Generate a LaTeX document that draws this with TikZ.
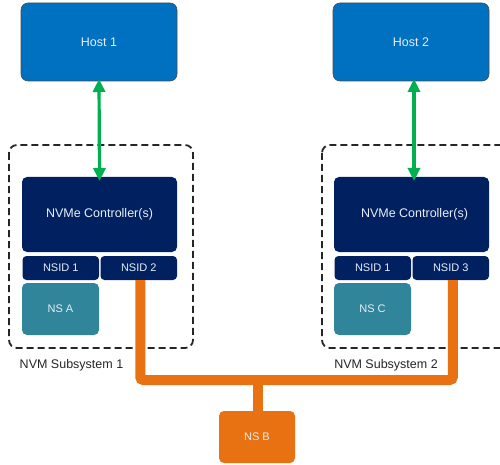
\documentclass[tikz,border=0pt]{standalone}
\usepackage{fontspec}
\setmainfont{Liberation Sans}
\usetikzlibrary{arrows.meta}
\definecolor{hostblue}{RGB}{0,112,192}
\definecolor{ctrlnavy}{RGB}{0,32,96}
\definecolor{nsteal}{RGB}{49,133,155}
\definecolor{busorange}{RGB}{232,114,18}
\definecolor{linkgreen}{RGB}{0,176,80}
\definecolor{labelwhite}{RGB}{232,238,246}
\tikzset{
  box/.style={inner sep=0pt, outer sep=0pt, text=labelwhite},
  hostbox/.style={box, fill=hostblue, draw=black!70, line width=0.6pt, rounded corners=7pt,
    minimum width=156pt, minimum height=78pt, font=\fontsize{12.5}{14}\selectfont},
  ctrlbox/.style={box, fill=ctrlnavy, rounded corners=5pt,
    minimum width=155pt, minimum height=75pt, font=\fontsize{12.5}{14}\selectfont},
  nsidbox/.style={box, fill=ctrlnavy, rounded corners=4pt,
    minimum width=76.5pt, minimum height=24pt, font=\fontsize{11}{13}\selectfont},
  nsbox/.style={box, fill=nsteal, rounded corners=5pt,
    minimum width=77pt, minimum height=52pt, font=\fontsize{11}{13}\selectfont},
  sharedns/.style={box, fill=busorange, rounded corners=5pt,
    minimum width=76pt, minimum height=52pt, font=\fontsize{11}{13}\selectfont},
  subsys/.style={draw=black!85, line width=1.8pt, dash pattern=on 7pt off 4pt, rounded corners=8pt},
  subsyslabel/.style={inner sep=0pt, text=black!85, font=\fontsize{12.5}{14}\selectfont},
  link/.style={draw=linkgreen, line width=3.2pt, {Triangle[width=12pt,length=13pt]}-{Triangle[width=12pt,length=13pt]}},
  bus/.style={draw=busorange, line width=10pt, rounded corners=3pt}
}
\begin{document}
\begin{tikzpicture}[x=1pt, y=-1pt]
  \clip (0,0) rectangle (500,465);
  \fill[white] (0,0) rectangle (500,465);

  % subsystem outlines
  \draw[subsys] (9,145) rectangle (193,348);
  \draw[subsys] (322,145) rectangle (515,348);
  \node[subsyslabel] (lab1) at (71.5,365) {NVM Subsystem 1};
  \node[subsyslabel] (lab2) at (386,365) {NVM Subsystem 2};

  % hosts
  \node[hostbox] (host1) at (99,42) {Host 1};
  \node[hostbox] (host2) at (411,42) {Host 2};

  % subsystem 1
  \node[ctrlbox] (ctrl1) at (99.5,214.5) {NVMe Controller(s)};
  \node[nsidbox] (s1id1) at (60.75,268) {NSID 1};
  \node[nsidbox] (s1id2) at (138.75,268) {NSID 2};
  \node[nsbox] (nsa) at (60.5,309) {NS A};

  % subsystem 2
  \node[ctrlbox] (ctrl2) at (411.5,214.5) {\hspace{6pt}NVMe Controller(s)};
  \node[nsidbox] (s2id1) at (372.75,268) {NSID 1};
  \node[nsidbox] (s2id3) at (450.75,268) {NSID 3};
  \node[nsbox] (nsc) at (372.5,309) {NS C};

  % shared namespace
  \node[sharedns] (nsb) at (257,437) {NS B};

  % host links
  \draw[link] ([yshift=2pt]host1.south) -- ([yshift=-4pt]ctrl1.north);
  \draw[link] ([xshift=3pt,yshift=2pt]host2.south) -- ([xshift=2.5pt,yshift=-4pt]ctrl2.north);

  % bus to the shared namespace
  \coordinate (busjoin) at (258,380);
  \draw[bus] ([xshift=1.5pt]s1id2.south) |- (busjoin) -| ([xshift=2pt]s2id3.south);
  \draw[bus, rounded corners=0pt] (busjoin) -- (nsb.north -| busjoin);
\end{tikzpicture}
\end{document}
